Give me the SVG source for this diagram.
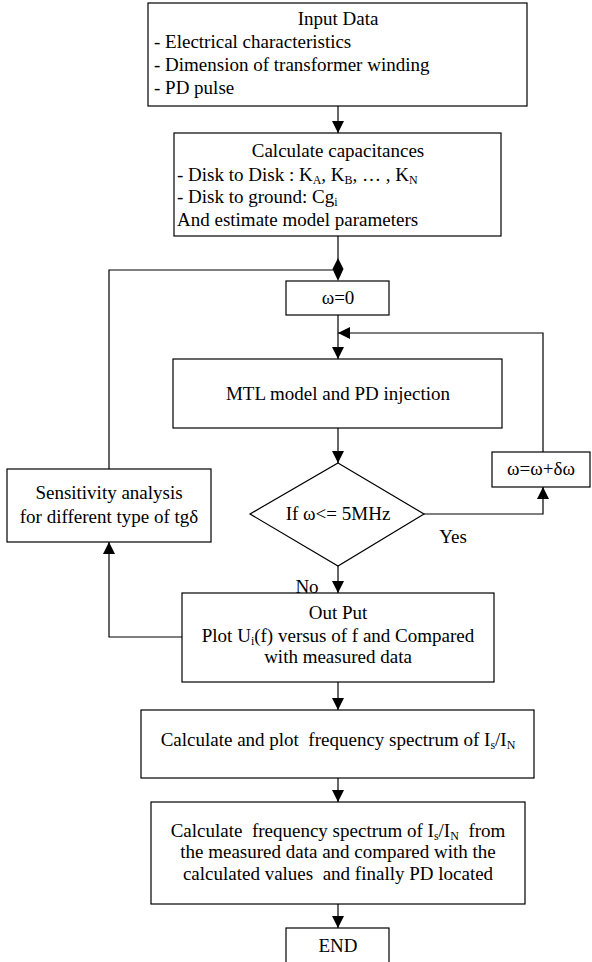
<svg xmlns="http://www.w3.org/2000/svg" width="592" height="962" viewBox="0 0 592 962">
<style>
  .box{fill:#fff;stroke:#000;stroke-width:1.2}
  .ln{fill:none;stroke:#000;stroke-width:1.2}
  .ah{fill:#000;stroke:none}
  text{font-family:"Liberation Serif","Times New Roman",serif;font-size:19px;fill:#000;white-space:pre}
  .c{text-anchor:middle}
  .s{font-size:12px}
</style>
<rect width="592" height="962" fill="#fff"/>
<defs>
  <marker id="arr" viewBox="0 0 12 12" refX="12" refY="6" markerWidth="12" markerHeight="12" markerUnits="userSpaceOnUse" orient="auto">
    <path d="M0,0 L12,6 L0,12 Z" fill="#000"/>
  </marker>
</defs>
<g id="connectors">
  <line class="ln" x1="338" y1="106" x2="338" y2="133" marker-end="url(#arr)"/>
  <line class="ln" x1="338" y1="236" x2="338" y2="260"/>
  <polygon class="ah" points="338,258 343.5,269 338,281 332.5,269"/>
  <polyline class="ln" points="109,469 109,270 333,270"/>
  <line class="ln" x1="338" y1="315" x2="338" y2="359" marker-end="url(#arr)"/>
  <polyline class="ln" points="543,452 543,333 338,333" marker-end="url(#arr)"/>
  <line class="ln" x1="338" y1="428" x2="338" y2="463" marker-end="url(#arr)"/>
  <polyline class="ln" points="424,514 543,514 543,487" marker-end="url(#arr)"/>
  <line class="ln" x1="338" y1="566" x2="338" y2="593" marker-end="url(#arr)"/>
  <polyline class="ln" points="182,637 109,637 109,542" marker-end="url(#arr)"/>
  <line class="ln" x1="338" y1="682" x2="338" y2="710" marker-end="url(#arr)"/>
  <line class="ln" x1="338" y1="778" x2="338" y2="802" marker-end="url(#arr)"/>
  <line class="ln" x1="338" y1="904" x2="338" y2="928" marker-end="url(#arr)"/>
  <text x="453" y="543" class="c">Yes</text>
  <text x="307" y="593" class="c">No</text>
</g>
<g id="input">
  <rect class="box" x="148" y="3" width="379" height="103"/>
  <text x="338" y="25" class="c">Input Data</text>
  <text x="154" y="48">- Electrical characteristics</text>
  <text x="154" y="71">- Dimension of transformer winding</text>
  <text x="154" y="94">- PD pulse</text>
</g>
<g id="capacitances">
  <rect class="box" x="174" y="133" width="327" height="103"/>
  <text x="338" y="157" class="c">Calculate capacitances</text>
  <text x="177" y="181">- Disk to Disk : K<tspan class="s" dy="3">A</tspan><tspan dy="-3">, K</tspan><tspan class="s" dy="3">B</tspan><tspan dy="-3">, … , K</tspan><tspan class="s" dy="3">N</tspan></text>
  <text x="177" y="203">- Disk to ground: Cg<tspan class="s" dy="3">i</tspan></text>
  <text x="177" y="226">And estimate model parameters</text>
</g>
<g id="w0">
  <rect class="box" x="286" y="281" width="103" height="34"/>
  <text x="338" y="304" class="c">ω=0</text>
</g>
<g id="mtl">
  <rect class="box" x="173" y="359" width="329" height="69"/>
  <text x="338" y="400" class="c">MTL model and PD injection</text>
</g>
<g id="decision">
  <polygon class="box" points="338,463 424,514 338,566 250,514"/>
  <text x="338" y="520" class="c">If ω&lt;= 5MHz</text>
</g>
<g id="increment">
  <rect class="box" x="492" y="452" width="98" height="35"/>
  <text x="541" y="475" class="c">ω=ω+δω</text>
</g>
<g id="sensitivity">
  <rect class="box" x="7" y="469" width="204" height="73"/>
  <text x="109" y="499" class="c">Sensitivity analysis</text>
  <text x="109" y="523" class="c">for different type of tgδ</text>
</g>
<g id="output">
  <rect class="box" x="182" y="593" width="312" height="89"/>
  <text x="338" y="619" class="c">Out Put</text>
  <text x="338" y="642" class="c">Plot U<tspan class="s" dy="3">i</tspan><tspan dy="-3">(f) versus of f and Compared</tspan></text>
  <text x="338" y="663" class="c">with measured data</text>
</g>
<g id="spectrum">
  <rect class="box" x="141" y="710" width="393" height="68"/>
  <text x="338" y="746" class="c">Calculate and plot  frequency spectrum of I<tspan class="s" dy="3">s</tspan><tspan dy="-3">/I</tspan><tspan class="s" dy="3">N</tspan></text>
</g>
<g id="locate">
  <rect class="box" x="151" y="802" width="374" height="102"/>
  <text x="338" y="837" class="c">Calculate  frequency spectrum of I<tspan class="s" dy="3">s</tspan><tspan dy="-3">/I</tspan><tspan class="s" dy="3">N</tspan><tspan dy="-3">  from</tspan></text>
  <text x="338" y="858" class="c">the measured data and compared with the</text>
  <text x="338" y="880" class="c">calculated values  and finally PD located</text>
</g>
<g id="end">
  <rect class="box" x="286" y="928" width="103" height="45"/>
  <text x="338" y="952" class="c">END</text>
</g>
</svg>
